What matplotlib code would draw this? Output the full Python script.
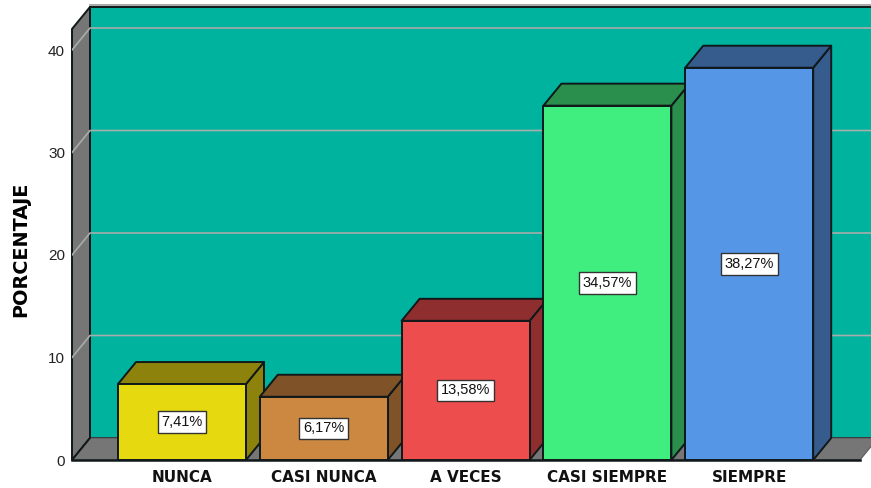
import matplotlib
matplotlib.use("Agg")
import matplotlib.pyplot as plt
from matplotlib.patches import Polygon

plt.rcParams["font.family"] = ["Liberation Sans", "DejaVu Sans"]

categories = ["NUNCA", "CASI NUNCA", "A VECES", "CASI SIEMPRE", "SIEMPRE"]
values = [7.41, 6.17, 13.58, 34.57, 38.27]
front_colors = ["#E6D90F", "#CC8840", "#EE4D4D", "#40EE80", "#5596E6"]
dark_colors = ["#8C820C", "#7F5228", "#8E2E2E", "#2A8F4C", "#365C8E"]
y_ticks = [0, 10, 20, 30, 40]

W, H = 871, 488
PX_X = 141.8   # pixels per category
PX_Y = 10.25   # pixels per percent
DX = 18 / PX_X
DY = 22 / PX_Y
BAR_W = 128 / PX_X
EDGE = "#10181A"

fig = plt.figure(figsize=(W / 100, H / 100), dpi=100)
ax = fig.add_axes([72 / W, 28 / H, (W - 72) / W, 460 / H])
x0 = (72 - 182) / PX_X
x1 = (W - 182) / PX_X
x_end = (860 - 182) / PX_X
y_top = 42.05
ax.set_xlim(x0, x1)
ax.set_ylim(0, 460 / PX_Y)


def face(pts, color, z, lw=1.4, edge=EDGE):
    ax.add_patch(Polygon(pts, closed=True, facecolor=color, edgecolor=edge,
                         linewidth=lw, zorder=z, clip_on=False, joinstyle="round"))


# walls and floor
face([(x0 + DX, DY), (x1 + 1, DY), (x1 + 1, y_top + DY), (x0 + DX, y_top + DY)], "#00B39E", 1)
ax.plot([x0 + DX, x1], [y_top + DY + 0.15] * 2, color="#9A9A9A", lw=1.2, zorder=1, clip_on=False)
face([(x0, 0), (x0 + DX, DY), (x0 + DX, y_top + DY), (x0, y_top)], "#767676", 2)
face([(x0, 0), (x_end, 0), (x_end + DX, DY), (x0 + DX, DY)], "#767676", 2, lw=0.8, edge="#5A5A5A")
ax.plot([x0, x0 + DX, x0 + DX], [0, DY, y_top + DY], color=EDGE, lw=1.4, zorder=3)
ax.plot([x0, x_end], [0, 0], color=EDGE, lw=1.8, zorder=3, clip_on=False)

# gridlines
for t in y_ticks[1:]:
    ax.plot([x0, x0 + DX, x1], [t, t + DY, t + DY], color="#A6ADAA", lw=1.2, zorder=3)

# bars
for i, (v, fc, dc) in enumerate(zip(values, front_colors, dark_colors)):
    l, r = i - BAR_W / 2, i + BAR_W / 2
    z = 5 + i
    face([(r, 0), (r + DX, DY), (r + DX, v + DY), (r, v)], dc, z)
    face([(l, v), (r, v), (r + DX, v + DY), (l + DX, v + DY)], dc, z)
    face([(l, 0), (r, 0), (r, v), (l, v)], fc, z)
    ax.text(i, v / 2, f"{v:.2f}%".replace(".", ","), ha="center", va="center",
            fontsize=10.5, color="#111111", zorder=20,
            bbox=dict(boxstyle="square,pad=0.26", facecolor="white", edgecolor="#333333", linewidth=1))

ax.set_xticks(range(len(categories)))
ax.set_xticklabels(categories, fontsize=11, fontweight="bold", color="#111111",
                   family="DejaVu Sans")
ax.set_yticks(y_ticks)
ax.set_yticklabels([str(t) for t in y_ticks], fontsize=11, color="#222222")
ax.tick_params(axis="x", length=0, pad=7)
ax.tick_params(axis="y", length=0, pad=5)
for s in ax.spines.values():
    s.set_visible(False)
ax.patch.set_visible(False)
ax.set_ylabel("PORCENTAJE", fontsize=13.9, fontweight="bold", color="black", family="DejaVu Sans")
ax.yaxis.set_label_coords(-0.052, 0.458)

fig.savefig("out.png", dpi=100)
